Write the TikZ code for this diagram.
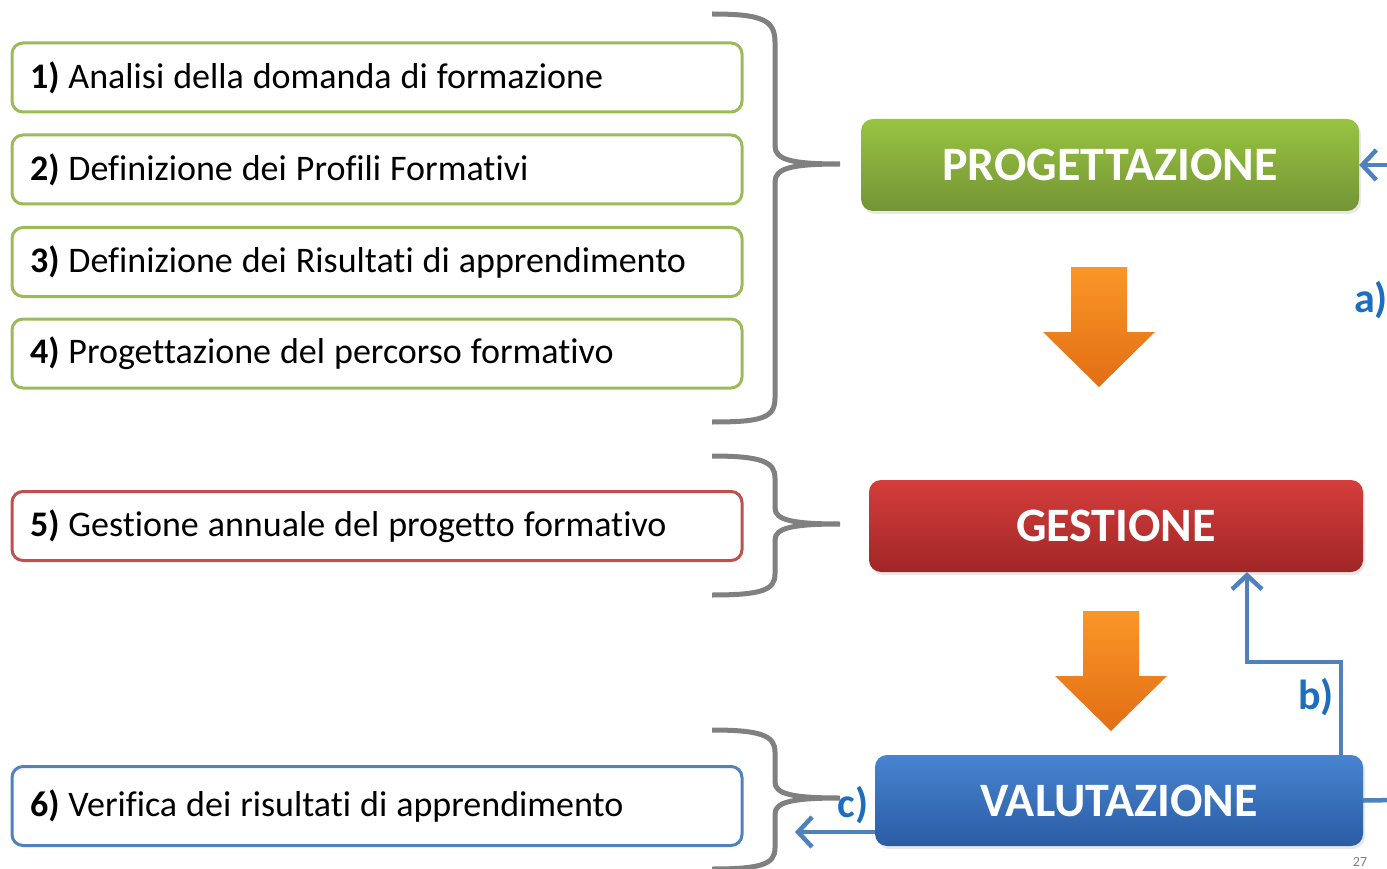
\documentclass[tikz,border=0pt]{standalone}
\usepackage{fontspec}
\setmainfont[RawFeature=-liga]{Carlito}
\usetikzlibrary{arrows.meta,shadows}
\newcommand\lsp{\spaceskip=0.25em\relax}
\definecolor{lgreen}{HTML}{9BBB59}
\definecolor{lred}{HTML}{C0504D}
\definecolor{lblue}{HTML}{4F81BD}
\definecolor{gtop}{RGB}{152,196,66}
\definecolor{gbot}{RGB}{116,148,52}
\definecolor{rtop}{RGB}{212,62,60}
\definecolor{rbot}{RGB}{160,38,38}
\definecolor{btop}{RGB}{72,132,208}
\definecolor{bbot}{RGB}{42,92,164}
\definecolor{otop}{RGB}{250,150,40}
\definecolor{obot}{RGB}{226,110,20}
\definecolor{bracec}{RGB}{128,128,128}
\definecolor{labc}{RGB}{30,110,192}
\tikzset{
  leftbox/.style={draw=#1, line width=3pt, rounded corners=11pt, fill=white,
    minimum width=730pt, minimum height=69pt, text width=694pt, align=left,
    inner xsep=18pt, inner ysep=0pt, font=\fontsize{36}{40}\selectfont},
  bigbox/.style={rounded corners=12pt, minimum height=92pt, inner sep=0pt,
    text=white, font=\fontsize{48}{52}\selectfont\bfseries,
    drop shadow={opacity=0.18, shadow xshift=2pt, shadow yshift=-3pt}},
  bracket/.style={draw=bracec, line width=5pt},
  conn/.style={draw=lblue, line width=4.5pt, line join=miter, -{Straight Barb[length=14pt,width=30pt,line width=4.5pt]}},
  plain/.style={draw=lblue, line width=4.5pt},
  lab/.style={text=labc, font=\fontsize{42}{46}\selectfont\bfseries, inner sep=0pt},
  oarrow/.style={top color=otop, bottom color=obot},
}
\begin{document}
\begin{tikzpicture}[x=1pt,y=-1pt]
\useasboundingbox (0,0) rectangle (1387,869);
% left boxes
\node[leftbox=lgreen] (b1) at (377,77.5) {\lsp\textbf{1)} Analisi della domanda di formazione};
\node[leftbox=lgreen] (b2) at (377,169.5) {\lsp\textbf{2)} Definizione dei Profili Formativi};
\node[leftbox=lgreen] (b3) at (377,262) {\lsp\textbf{3)} Definizione dei Risultati di apprendimento};
\node[leftbox=lgreen] (b4) at (377,353.5) {\lsp\textbf{4)} Progettazione del percorso formativo};
\node[leftbox=lred] (b5) at (377,526) {\lsp\textbf{5)} Gestione annuale del progetto formativo};
\node[leftbox=lblue, minimum height=79pt] (b6) at (377,806) {\lsp\textbf{6)} Verifica dei risultati di apprendimento};
% braces
\draw[bracket] (712,14) .. controls (762,14) and (775,20) .. (775,42) -- (775,146)
  .. controls (775,160) and (792,164) .. (840,164)
  .. controls (792,164) and (775,168) .. (775,182) -- (775,398)
  .. controls (775,418) and (762,422) .. (712,422);
\draw[bracket] (712,456) .. controls (762,456) and (775,462) .. (775,478) -- (775,508)
  .. controls (775,520) and (792,524) .. (840,524)
  .. controls (792,524) and (775,528) .. (775,540) -- (775,574)
  .. controls (775,590) and (762,595) .. (712,595);
\draw[bracket] (712,730) .. controls (762,730) and (775,736) .. (775,752) -- (775,782)
  .. controls (775,794) and (792,798) .. (840,798)
  .. controls (792,798) and (775,802) .. (775,814) -- (775,848)
  .. controls (775,864) and (762,869) .. (712,869);
% right boxes
\node[bigbox, top color=gtop, bottom color=gbot, minimum width=498pt] (prog) at (1110,165) {PROGETTAZIONE};
\node[bigbox, top color=rtop, bottom color=rbot, minimum width=494pt] (ges) at (1116,526) {GESTIONE};
\node[bigbox, top color=btop, bottom color=bbot, minimum width=488pt, minimum height=91pt] (val) at (1119,800.5) {VALUTAZIONE};
% orange arrows
\shade[oarrow] (1071,267) -- (1127,267) -- (1127,332) -- (1155,332) -- (1099,387) -- (1043,332) -- (1071,332) -- cycle;
\shade[oarrow] (1083,611) -- (1139,611) -- (1139,676) -- (1167,676) -- (1111,731) -- (1055,676) -- (1083,676) -- cycle;
% connectors
\coordinate (aIn) at (1400,165);
\coordinate (aOut) at (1400,800);
\coordinate (bR) at (1341,662);
\coordinate (bL) at (1247,662);
\coordinate (cEnd) at (795,832);
\draw[conn] (aIn) -- (prog.east);
\draw[plain] (val.east) -- (aOut);
\draw[conn] (val.north -| bR) -- (bR) -- (bL) -- (ges.south -| bL);
\draw[conn] (val.west |- cEnd) -- (cEnd);
% labels
\node[lab, anchor=west] (la) at (1354,300) {a)};
\node[lab] (lb) at (1316,697) {b)};
\node[lab] (lc) at (853,805) {c)};
\node[text=bracec, font=\fontsize{14}{16}\selectfont, anchor=south, inner sep=1pt] (pg) at (1360,868) {27};
\end{tikzpicture}
\end{document}
